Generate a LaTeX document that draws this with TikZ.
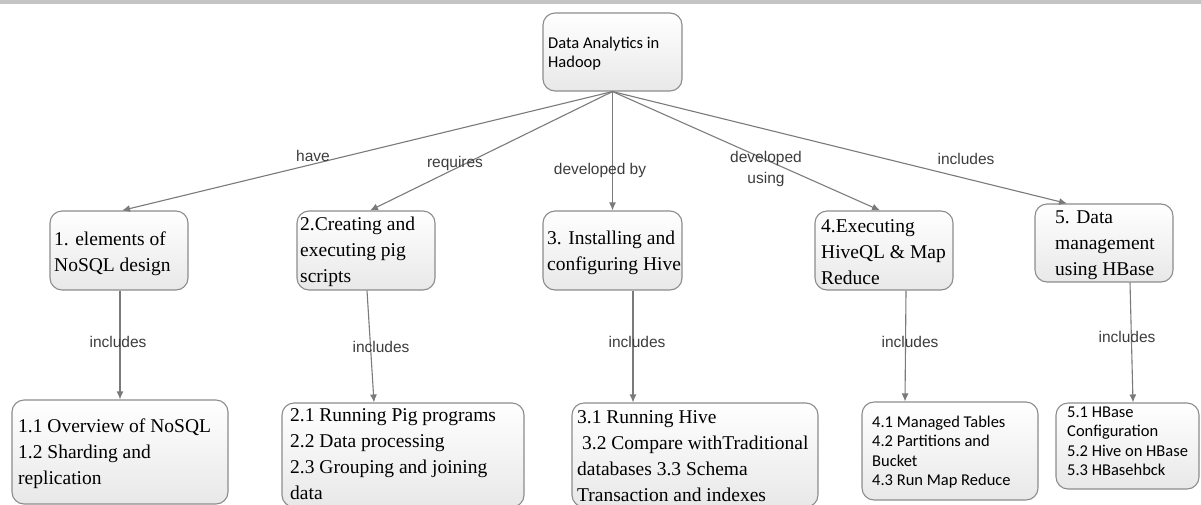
\documentclass[tikz,border=0pt]{standalone}
\usepackage{fontspec}
\setmainfont{Liberation Serif}
\newfontfamily\calfont{Carlito}
\newfontfamily\arifont{Liberation Sans}
\usetikzlibrary{arrows.meta}
\definecolor{linegray}{HTML}{7A7A7A}
\definecolor{boxgray}{HTML}{8C8C8C}
\definecolor{bargray}{HTML}{C4C4C4}
\definecolor{labelgray}{HTML}{3C3C3C}
\newcommand{\boxlines}[1]{\begin{tabular}[t]{@{}l@{}}#1\end{tabular}}
\tikzset{
  box/.style={draw=boxgray, line width=1.1pt, rounded corners=12pt, top color=white, bottom color=black!9, inner sep=0pt},
  serif/.style={anchor=base west, inner sep=0pt, font={\fontsize{19.5}{26}\selectfont}},
  sans/.style={anchor=base west, inner sep=0pt, font={\calfont\fontsize{16.5}{19.5}\selectfont}},
  elabel/.style={inner sep=0pt, text=labelgray, align=center, font={\arifont\fontsize{15.5}{21}\selectfont}},
  conn/.style={draw=linegray, line width=1.1pt, -{Latex[length=8pt,width=7pt]}}
}
\begin{document}
\begin{tikzpicture}[x=1pt,y=-1pt]
\useasboundingbox (0,0) rectangle (1201,504);
\fill[bargray] (0,0) rectangle (1201,4);

% boxes
\node[box, minimum width=139pt, minimum height=78pt] (root) at (612.5,52) {};
\node[box, minimum width=138pt, minimum height=79pt] (b1) at (119,250.5) {};
\node[box, minimum width=138pt, minimum height=79pt] (b2) at (366,250.5) {};
\node[box, minimum width=139pt, minimum height=79pt] (b3) at (612.5,250.5) {};
\node[box, minimum width=138pt, minimum height=79pt] (b4) at (884,250.5) {};
\node[box, minimum width=138pt, minimum height=78pt] (b5) at (1104,243) {};
\node[box, minimum width=216pt, minimum height=104pt] (c1) at (120,452) {};
\node[box, minimum width=242pt, minimum height=104pt] (c2) at (403,455) {};
\node[box, minimum width=246pt, minimum height=104pt] (c3) at (695,455) {};
\node[box, minimum width=176pt, minimum height=98pt] (c4) at (950,451) {};
\node[box, minimum width=143pt, minimum height=86pt] (c5) at (1127.5,446) {};

% texts
\node[sans] (t0) at (548,48) {\boxlines{Data Analytics in\\Hadoop}};
\node[serif] (t1) at (54,245) {\boxlines{1. elements of\\NoSQL design}};
\node[serif] (t2) at (300,230) {\boxlines{2.Creating and\\executing pig\\scripts}};
\node[serif] (t3) at (547,244) {\boxlines{3. Installing and\\configuring Hive}};
\node[serif] (t4) at (821,232) {\boxlines{4.Executing\\HiveQL \& Map\\Reduce}};
\node[serif] (t5) at (1055,223) {\boxlines{5. Data\\management\\using HBase}};
\node[serif] (u1) at (18,432) {\boxlines{1.1 Overview of NoSQL\\1.2 Sharding and\\replication}};
\node[serif] (u2) at (290,421) {\boxlines{2.1 Running Pig programs\\2.2 Data processing\\2.3 Grouping and joining\\data}};
\node[serif] (u3) at (577,423) {\boxlines{3.1 Running Hive\\\hspace{5pt}3.2 Compare withTraditional\\databases 3.3 Schema\\Transaction and indexes}};
\node[sans] (u4) at (872,427) {\boxlines{4.1 Managed Tables\\4.2 Partitions and\\Bucket\\4.3 Run Map Reduce}};
\node[sans] (u5) at (1067,417) {\boxlines{5.1 HBase\\Configuration\\5.2 Hive on HBase\\5.3 HBasehbck}};

% connectors level 1
\draw[conn] (root.south) -- ([xshift=3pt]b1.north);
\draw[conn] (root.south) -- ([xshift=4pt]b2.north);
\draw[conn] (root.south) -- (b3.north);
\draw[conn] (root.south) -- ([xshift=-4pt]b4.north);
\draw[conn] (root.south) -- ([xshift=-37pt]b5.north);

% connectors level 2
\draw[conn] ([xshift=1pt]b1.south) -- (c1.north);
\draw[conn] ([xshift=1pt]b2.south) -- ([xshift=-29pt]c2.north);
\draw[conn] ([xshift=20.5pt]b3.south) -- ([xshift=-62pt]c3.north);
\draw[conn] ([xshift=22pt]b4.south) -- ([xshift=-45pt]c4.north);
\draw[conn] ([xshift=26pt]b5.south) -- ([xshift=5.5pt]c5.north);

% edge labels
\node[elabel] (l1) at (313,156) {have};
\node[elabel] (l2) at (455,163) {requires};
\node[elabel] (l3) at (600,170) {developed by};
\node[elabel] (l4) at (766,169) {developed\\using};
\node[elabel] (l5) at (966,159) {includes};
\node[elabel] (m1) at (118,342) {includes};
\node[elabel] (m2) at (381,347) {includes};
\node[elabel] (m3) at (637,342) {includes};
\node[elabel] (m4) at (910,342) {includes};
\node[elabel] (m5) at (1127,337) {includes};
\end{tikzpicture}
\end{document}
